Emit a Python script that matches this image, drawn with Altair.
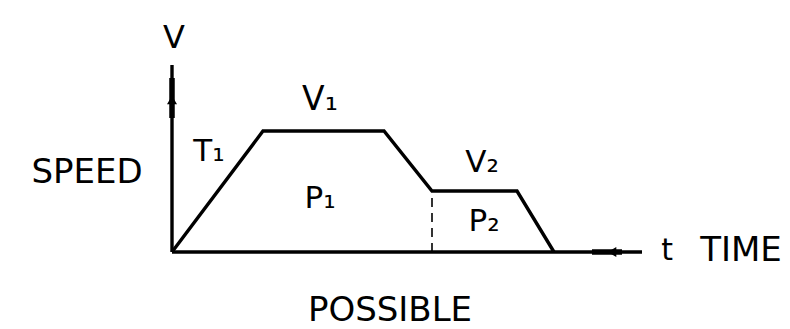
import altair as alt
import pandas as pd

# Speed profile: time / speed breakpoints (arbitrary units)
profile_t = [0, 91, 212, 260, 345, 382]
profile_v = [0, 121, 121, 61, 61, 0]

# Axis extents
v_axis_top = 187
t_axis_end = 470

# Boundary between the two phases
split_t = 260
split_v = 61

# Text annotations
label_text = ["V", "V₁", "T₁", "P₁", "V₂", "P₂", "SPEED", "t", "TIME", "POSSIBLE"]
label_t = [2, 148, 37, 148, 310, 312, -85, 495, 569, 218]
label_v = [214, 152, 100, 53, 89, 30, 79, 1, 1, -59]
label_size = [32, 33, 31, 31, 31, 31, 34, 30, 34, 34]

FONT = "DejaVu Sans"

xs = alt.Scale(domain=[-172, 618])
ys = alt.Scale(domain=[-77, 252])
X = lambda f: alt.X(f, type="quantitative", scale=xs, axis=None)
Y = lambda f: alt.Y(f, type="quantitative", scale=ys, axis=None)

prof = pd.DataFrame({"t": profile_t, "v": profile_v, "o": range(len(profile_t))})
profile = alt.Chart(prof).mark_line(color="black", strokeWidth=3.4, strokeJoin="miter").encode(
    x=X("t"), y=Y("v"), order="o"
)

axes_df = pd.DataFrame({
    "t": [0, 0], "v": [0, 0], "t2": [0, t_axis_end], "v2": [v_axis_top, 0]
})
axes = alt.Chart(axes_df).mark_rule(color="black", strokeWidth=3.4).encode(
    x=X("t"), y=Y("v"), x2="t2", y2="v2"
)

dash_df = pd.DataFrame({"t": [split_t], "v": [0], "v2": [split_v]})
dash = alt.Chart(dash_df).mark_rule(color="black", strokeWidth=1.6, strokeDash=[9, 6]).encode(
    x=X("t"), y=Y("v"), y2="v2"
)

# Arrowheads on the axes
arrow_df = pd.DataFrame({"t": [0, 440], "v": [152, 0], "shape": ["triangle-up", "triangle-left"]})
arrows = alt.Chart(arrow_df).mark_point(filled=True, color="black", size=100, opacity=1).encode(
    x=X("t"), y=Y("v"),
    shape=alt.Shape("shape:N", scale=None, legend=None)
)
shaft_df = pd.DataFrame({"t": [0, 420], "v": [134, 0], "t2": [0, 450], "v2": [174, 0]})
shafts = alt.Chart(shaft_df).mark_rule(color="black", strokeWidth=5.5).encode(
    x=X("t"), y=Y("v"), x2="t2", y2="v2"
)

lab = pd.DataFrame({"text": label_text, "t": label_t, "v": label_v, "size": label_size})
labels = alt.Chart(lab).mark_text(font=FONT, color="black", baseline="middle", align="center").encode(
    x=X("t"), y=Y("v"), text="text:N",
    size=alt.Size("size:Q", scale=None, legend=None)
)

chart = alt.layer(axes, shafts, arrows, dash, profile, labels).properties(
    width=790, height=329, padding=0, autosize="none", background="white"
).configure_view(stroke=None)

chart.save("out.html", embed_options={"renderer": "svg", "actions": False})
